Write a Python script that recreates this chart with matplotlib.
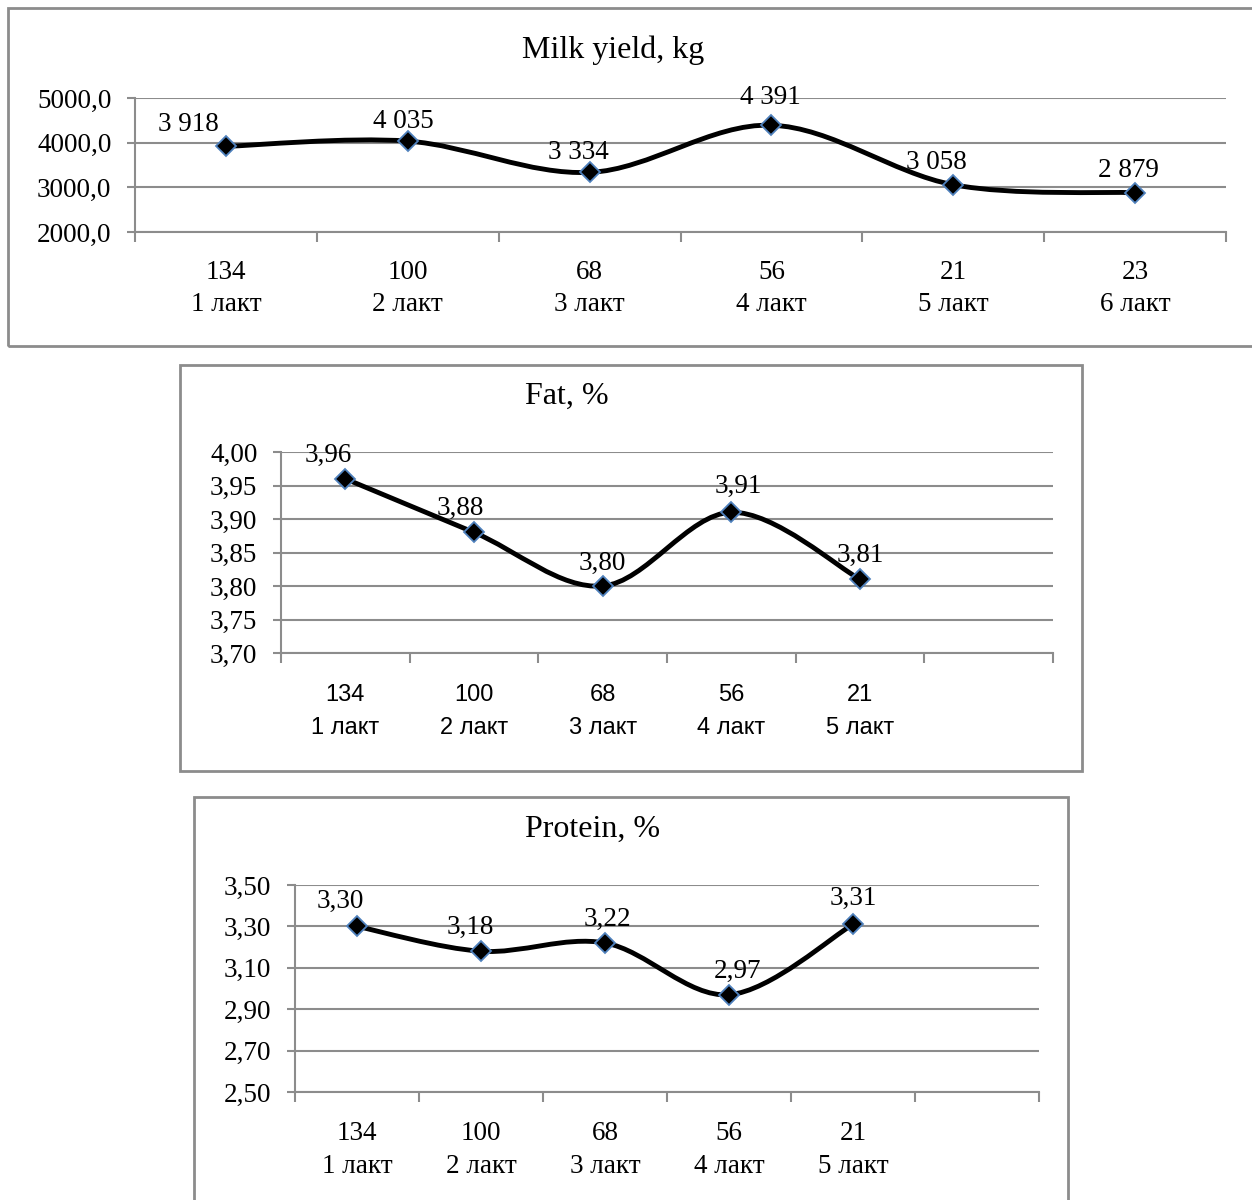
import numpy as np
import matplotlib
matplotlib.use('Agg')
import matplotlib.pyplot as plt
from matplotlib.path import Path
from matplotlib.patches import PathPatch, Rectangle
from matplotlib.ticker import FuncFormatter

# Data
herd = ['134', '100', '68', '56', '21', '23']
lact = ['1 лакт', '2 лакт', '3 лакт', '4 лакт', '5 лакт', '6 лакт']
milk = [3918, 4035, 3334, 4391, 3058, 2879]
fat = [3.96, 3.88, 3.80, 3.91, 3.81]
protein = [3.30, 3.18, 3.22, 2.97, 3.31]

W, H = 1252, 1200
fig = plt.figure(figsize=(W / 100, H / 100), dpi=100)

SERIF = 'Liberation Serif'
SANS = 'Liberation Sans'
GRID = '#8c8c8c'


def fx(px):
    return px / W


def fy(py):
    return 1 - py / H


def box(x0, y0, x1, y1):
    fig.patches.append(Rectangle((fx(x0), fy(y1)), fx(x1 - x0), (y1 - y0) / H,
                                 transform=fig.transFigure, fill=False,
                                 edgecolor=GRID, linewidth=2))


def smooth_path(xs, ys):
    # Excel-style smoothed line: cubic Bezier through points
    pts = np.column_stack([xs, ys]).astype(float)
    n = len(pts)
    verts = [pts[0]]
    codes = [Path.MOVETO]
    for i in range(n - 1):
        p0 = pts[max(i - 1, 0)]
        p1 = pts[i]
        p2 = pts[i + 1]
        p3 = pts[min(i + 2, n - 1)]
        c1 = p1 + (p2 - p0) / 6
        c2 = p2 - (p3 - p1) / 6
        verts += [c1, c2, p2]
        codes += [Path.CURVE4] * 3
    return Path(verts, codes)


def panel(rect_px, values, ylim, ystep, title, title_xy, yfmt, lblfmt,
          lbl_off, xfont, xfs, xls, xpad, fs=19.5):
    x0, y0, x1, y1 = rect_px
    ax = fig.add_axes([fx(x0), fy(y1), fx(x1 - x0), (y1 - y0) / H])
    ncat = 6
    n = len(values)
    xs = np.arange(n) + 0.5
    ax.set_xlim(0, ncat)
    ax.set_ylim(*ylim)
    yt = np.arange(ylim[0], ylim[1] + ystep / 2, ystep)
    ax.set_yticks(yt)
    ax.yaxis.set_major_formatter(FuncFormatter(yfmt))
    ax.grid(axis='y', color=GRID, linewidth=1.5)
    ax.set_axisbelow(True)
    for s in ['top', 'right']:
        ax.spines[s].set_visible(False)
    for s in ['left', 'bottom']:
        ax.spines[s].set_color(GRID)
        ax.spines[s].set_linewidth(1.5)
    ax.set_xticks(np.arange(ncat + 1))
    ax.set_xticklabels([])
    ax.set_xticks(xs, minor=True)
    ax.set_xticklabels([f'{h}\n{l}' for h, l in zip(herd[:n], lact[:n])], minor=True,
                       family=xfont, fontsize=xfs, linespacing=xls)
    ax.tick_params(axis='x', which='major', length=7, width=1.5, color=GRID, direction='out')
    ax.tick_params(axis='x', which='minor', length=0, pad=xpad)
    ax.tick_params(axis='y', length=6, width=1.5, color=GRID, pad=11)
    for t in ax.get_yticklabels():
        t.set_family(SERIF)
        t.set_fontsize(fs)

    ax.add_patch(PathPatch(smooth_path(xs, values), facecolor='none',
                           edgecolor='black', linewidth=3.5, zorder=3,
                           capstyle='round', joinstyle='round'))
    ax.plot(xs, values, linestyle='none', marker='D', markersize=10,
            markerfacecolor='black', markeredgecolor='#4f81bd',
            markeredgewidth=1.3, zorder=4, clip_on=False)
    for x, v, off in zip(xs, values, lbl_off):
        ax.annotate(lblfmt(v), (x, v), xytext=off, textcoords='offset points',
                    ha='center', va='center', family=SERIF, fontsize=fs,
                    zorder=5)
    fig.text(fx(title_xy[0]), fy(title_xy[1]), title, ha='center', va='center',
             family=SERIF, fontsize=fs + 3.5)
    return ax


def thousands(v):
    return f'{v:,.0f}'.replace(',', ' ')


def dec1(v, pos=None):
    return f'{v:.1f}'.replace('.', ',')


def dec2(v, pos=None):
    return f'{v:.2f}'.replace('.', ',')


# Panel 1: milk yield
box(8, 8, 1262, 346)
panel((135, 98, 1226, 232), milk, (2000, 5000), 1000, 'Milk yield, kg', (613, 50),
      dec1, thousands,
      [(-27, 16), (-3, 14), (-8, 14), (-1, 20), (-12, 16), (-5, 16)],
      SERIF, 19.5, 1.4, 20)

# Panel 2: fat
box(180, 365, 1082, 771)
panel((281, 452, 1053, 653), fat, (3.70, 4.00), 0.05, 'Fat, %', (567, 396),
      dec2, dec2,
      [(-12, 17), (-10, 17), (0, 16), (5, 19), (0, 17)],
      SANS, 17, 1.65, 22)

# Panel 3: protein
box(194, 797, 1068, 1205)
panel((295, 885, 1039, 1092), protein, (2.50, 3.50), 0.20, 'Protein, %', (593, 829),
      dec2, dec2,
      [(-12, 18), (-8, 17), (2, 17), (6, 17), (0, 19)],
      SERIF, 19.5, 1.4, 21)

fig.savefig('out.png', dpi=100)
